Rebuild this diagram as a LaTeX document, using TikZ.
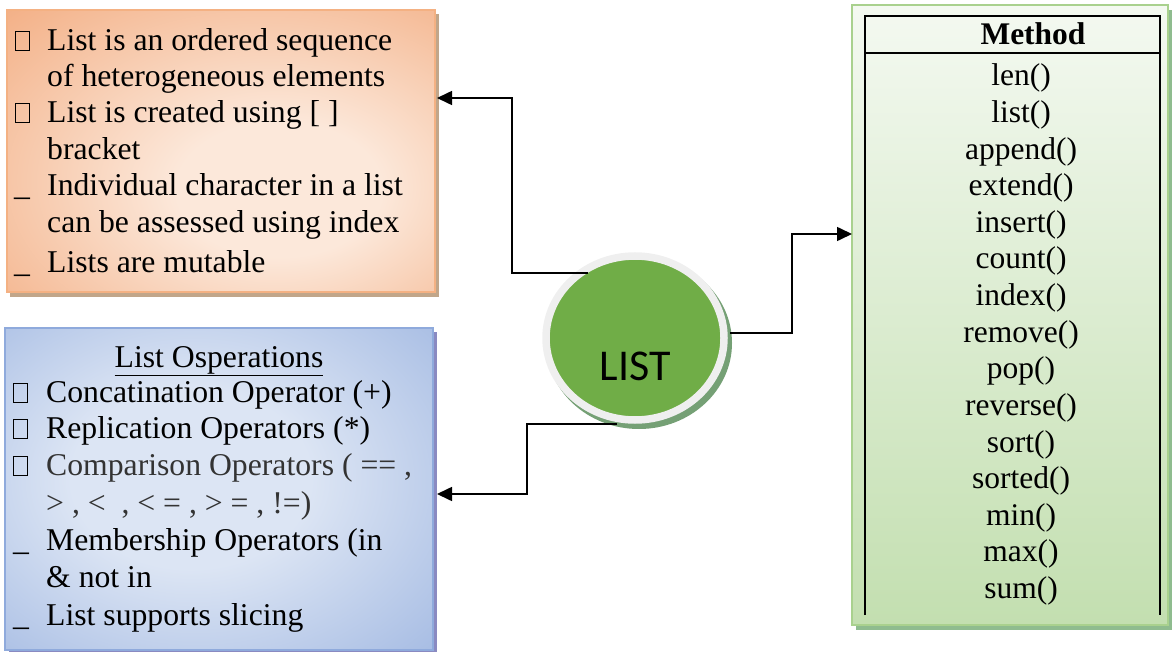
\documentclass[tikz,border=0pt]{standalone}
\usepackage{fontspec}
\setmainfont{Liberation Serif}
\newfontfamily\listfont{Carlito}
\usetikzlibrary{shapes.geometric,arrows.meta,calc}
\definecolor{orL}{HTML}{FCE8DA}
\definecolor{orD}{HTML}{F1A373}
\definecolor{orB}{HTML}{F4B183}
\definecolor{blL}{HTML}{DCE5F4}
\definecolor{blD}{HTML}{8CA8DB}
\definecolor{blB}{HTML}{8FAADC}
\definecolor{grT}{HTML}{F4F9F1}
\definecolor{grBo}{HTML}{C3DFB0}
\definecolor{grB}{HTML}{A9D18E}
\definecolor{lgreen}{HTML}{70AD47}
\definecolor{ring}{HTML}{EFEFEF}
\pgfdeclareradialshading{orshade}{\pgfpoint{8bp}{-8bp}}{color(0bp)=(orL); color(12bp)=(orL); color(48bp)=(orD); color(80bp)=(orD)}
\pgfdeclareradialshading{blshade}{\pgfpoint{-4bp}{2bp}}{color(0bp)=(blL); color(14bp)=(blL); color(50bp)=(blD); color(80bp)=(blD)}
\begin{document}
\begin{tikzpicture}[x=1pt,y=-1pt,
  txt/.style={anchor=base west,inner sep=0pt,font=\fontsize{31.7}{37}\selectfont},
  mtxt/.style={anchor=base,inner sep=0pt,font=\fontsize{31.5}{37}\selectfont},
  bul/.style={draw=black,line width=0.8pt,minimum width=14pt,minimum height=19pt,inner sep=0pt},
  arr/.style={line width=1.6pt,-{Triangle[length=15pt,width=14pt]}},
  shadowbox/.style={fill=black!35,opacity=0.7},
]
\useasboundingbox (0,0) rectangle (1174,652);

% ---------- orange box ----------
\fill[shadowbox,fill=brown!60!gray] (10,14) rectangle (439,297);
\node[draw=orB,line width=1.5pt,shading=orshade,minimum width=428pt,minimum height=282pt,inner sep=0pt] (obox) at (221,151) {};
\node[bul] (ob1) at (22,41) {};
\node[txt] (o1) at (47,51) {List is an ordered sequence};
\node[txt] (o2) at (47,87) {of heterogeneous elements};
\node[bul] (ob2) at (22,113) {};
\node[txt] (o3) at (47,123) {List is created using [ ]};
\node[txt] (o4) at (47,160) {bracket};
\node[txt] (ob3) at (14,196) {\_};
\node[txt] (o5) at (47,196) {Individual character in a list};
\node[txt] (o6) at (47,233) {can be assessed using index};
\node[txt] (ob4) at (14,272) {\_};
\node[txt] (o7) at (47,272) {Lists are mutable};

% ---------- blue box ----------
\fill[shadowbox,fill=blue!30!gray] (9,332) rectangle (437,654);
\node[draw=blB,line width=1.5pt,shading=blshade,minimum width=428pt,minimum height=322pt,inner sep=0pt] (bbox) at (219,489) {};
\node[anchor=base,inner sep=0pt,font=\fontsize{31.7}{37}\selectfont] (bh) at (219,367) {\underline{List Osperations}};
\node[bul] (bb1) at (20,393) {};
\node[txt] (b1) at (46,402) {Concatination Operator (+)};
\node[bul] (bb2) at (20,429) {};
\node[txt] (b2) at (46,438) {Replication Operators (*)};
\node[bul] (bb3) at (20,466) {};
\node[txt,text=black!80] (b3) at (46,475) {Comparison Operators ( == ,};
\node[txt,text=black!80] (b4) at (46,513) {> , <\ \ , < = , > = , !=)};
\node[txt] (bb4) at (13,550) {\_};
\node[txt] (b5) at (46,550) {Membership Operators (in};
\node[txt] (b6) at (46,587) {\& not in};
\node[txt] (bb5) at (13,625) {\_};
\node[txt] (b7) at (46,625) {List supports slicing};

% ---------- green box ----------
\fill[shadowbox,fill=green!25!gray] (856,10) rectangle (1172,630);
\node[draw=grB,line width=2.5pt,top color=grT,bottom color=grBo,minimum width=316pt,minimum height=620pt,inner sep=0pt] (gbox) at (1010,315) {};
\coordinate (tl) at (865,16);
\coordinate (tr) at (1160,16);
\coordinate (bl) at (865,615);
\coordinate (br) at (1160,615);
\draw[line width=1.1pt] (bl) -- (tl) -- (tr) -- (br);
\draw[line width=1.1pt] (865,53) -- (1160,53);
\node[mtxt,font=\fontsize{31.5}{37}\selectfont\bfseries] (mh) at (1033,45) {Method};
\foreach \t [count=\i] in {len(),list(),append(),extend(),insert(),count(),index(),remove(),pop(),reverse(),sort(),sorted(),min(),max(),sum()}{
  \node[mtxt] (m\i) at (1021,{86+36.6*(\i-1)}) {\t};
}

% ---------- central circle ----------
\fill[fill=black!40!green!35!gray,opacity=0.8] (639,343) ellipse (93 and 86);
\node[ellipse,fill=lgreen,draw=ring,line width=7.5pt,minimum width=178pt,minimum height=164pt,inner sep=0pt] (list) at (635,338) {};
\node[inner sep=0pt,font=\listfont\fontsize{44}{50}\selectfont] (listlbl) at (635,366) {LIST};

% ---------- connectors ----------
\coordinate (s1) at (588,273);
\coordinate (e1) at (437,98);
\coordinate (s2) at (617,424);
\coordinate (e2) at (437,494);
\coordinate (s3) at (730,333);
\coordinate (e3) at (852,234);
\draw[arr] (s1) -- (512,273) |- (e1);
\draw[arr] (s2) -- (527,424) |- (e2);
\draw[arr] (s3) -- (792,333) |- (e3);
\end{tikzpicture}
\end{document}
